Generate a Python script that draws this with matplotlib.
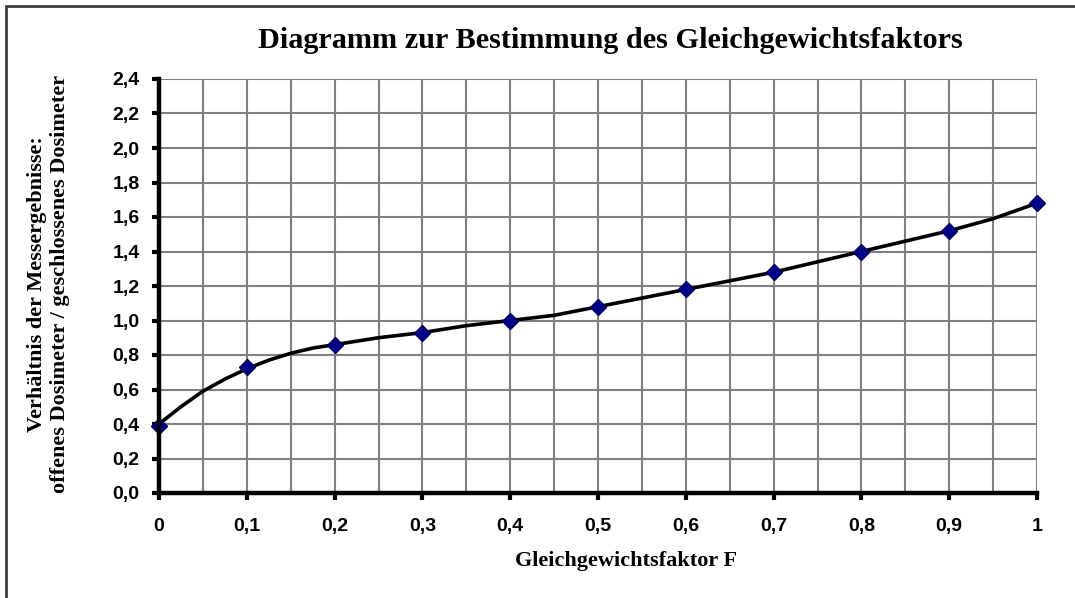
import matplotlib
matplotlib.use("Agg")
import matplotlib.pyplot as plt
from matplotlib.patches import Rectangle
from matplotlib.ticker import MultipleLocator

# data
marker_x = [0.0, 0.1, 0.2, 0.3, 0.4, 0.5, 0.6, 0.7, 0.8, 0.9, 1.0]
marker_y = [0.39, 0.73, 0.86, 0.93, 1.00, 1.08, 1.18, 1.28, 1.40, 1.52, 1.68]
curve_x = [0.0, 0.025, 0.05, 0.075, 0.1, 0.125, 0.15, 0.175, 0.2, 0.25, 0.3, 0.35,
           0.4, 0.45, 0.5, 0.55, 0.6, 0.65, 0.7, 0.75, 0.8, 0.85, 0.9, 0.95, 1.0]
curve_y = [0.40, 0.50, 0.59, 0.66, 0.72, 0.77, 0.81, 0.84, 0.86, 0.90, 0.93, 0.97,
           1.00, 1.03, 1.08, 1.13, 1.18, 1.23, 1.28, 1.34, 1.40, 1.46, 1.52, 1.59, 1.68]
x_ticks = [0, 0.1, 0.2, 0.3, 0.4, 0.5, 0.6, 0.7, 0.8, 0.9, 1.0]
x_tick_labels = ["0", "0,1", "0,2", "0,3", "0,4", "0,5", "0,6", "0,7", "0,8", "0,9", "1"]
y_ticks = [0.0, 0.2, 0.4, 0.6, 0.8, 1.0, 1.2, 1.4, 1.6, 1.8, 2.0, 2.2, 2.4]
y_tick_labels = [f"{v:.1f}".replace(".", ",") for v in y_ticks]

title = "Diagramm zur Bestimmung des Gleichgewichtsfaktors"
xlabel = "Gleichgewichtsfaktor F"
ylabel = "Verhältnis der Messergebnisse:\noffenes Dosimeter / geschlossenes Dosimeter"

W, H = 1075, 598
fig = plt.figure(figsize=(W / 100, H / 100), dpi=100)
ax = fig.add_axes([159 / W, 1 - 493 / H, (1037 - 159) / W, (493 - 79) / H])

ax.set_xlim(0, 1)
ax.set_ylim(0, 2.4)
ax.xaxis.set_minor_locator(MultipleLocator(0.05))
ax.set_xticks(x_ticks)
ax.set_xticklabels(x_tick_labels)
ax.set_yticks(y_ticks)
ax.set_yticklabels(y_tick_labels)

ax.grid(True, which="both", axis="x", color="#808080", lw=1.5)
ax.grid(True, which="major", axis="y", color="#808080", lw=1.5)
ax.set_axisbelow(True)

for s in ["top", "right"]:
    ax.spines[s].set_visible(False)
for s in ["left", "bottom"]:
    ax.spines[s].set_linewidth(3.2)
    ax.spines[s].set_color("black")
    ax.spines[s].set_zorder(5)

ax.tick_params(axis="both", which="major", direction="out", length=5, width=3, color="black")
ax.tick_params(axis="both", which="minor", length=0)
ax.tick_params(axis="x", pad=13)
ax.tick_params(axis="y", pad=9)
for lab in ax.get_xticklabels() + ax.get_yticklabels():
    lab.set_fontfamily("Liberation Sans")
    lab.set_fontweight("bold")
    lab.set_fontsize(14)

ax.plot(curve_x, curve_y, color="black", lw=2.6, zorder=3, clip_on=False)
ax.plot(marker_x, marker_y, linestyle="none", marker="D", markersize=8,
        markerfacecolor="#00008B", markeredgecolor="#000060", zorder=4, clip_on=False)

fig.text(0.5 * (258 + 962) / W, 1 - 41 / H, title, ha="center", va="center",
         fontfamily="Liberation Serif", fontweight="bold", fontsize=21.8)
fig.text(626 / W, 1 - 561 / H, xlabel, ha="center", va="center",
         fontfamily="Liberation Serif", fontweight="bold", fontsize=16)
fig.text(49 / W, 1 - 284 / H, ylabel, ha="center", va="center", rotation=90,
         fontfamily="Liberation Serif", fontweight="bold", fontsize=16,
         multialignment="center", linespacing=1.2)

fig.patches.append(Rectangle((6 / W, -0.1), 1.2, 1 - 6 / H + 0.1, transform=fig.transFigure,
                             fill=False, edgecolor="#404040", lw=2, clip_on=False))

fig.savefig("out.png", dpi=100)
